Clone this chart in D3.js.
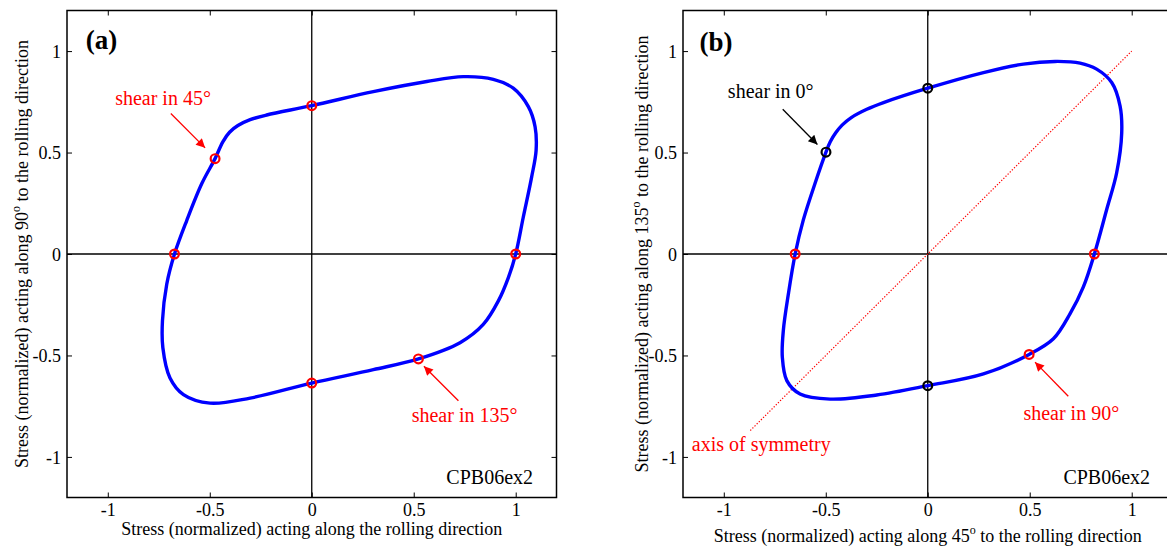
<!DOCTYPE html>
<html>
<head>
<meta charset="utf-8">
<script src="https://cdn.jsdelivr.net/npm/d3@7"></script>
<style>
  html, body { margin: 0; padding: 0; background: #fff; }
  svg { display: block; font-family: "Liberation Serif", "Times New Roman", serif; }
</style>
</head>
<body>
<svg id="chart" width="1167" height="550"></svg>
<script>
// ---------------- DATA ----------------
const xTicks = [-1, -0.5, 0, 0.5, 1];
const yTicks = [-1, -0.5, 0, 0.5, 1];
const axisDomain = [-1.2, 1.2];

// Panel (a): yield locus, rolling direction vs 90 deg
const curveAx = [1.000, 1.037, 1.078, 1.100, 1.095, 1.062, 0.988, 0.890, 0.743, 0.564, 0.302, 0.000, -0.221, -0.302, -0.362, -0.403, -0.436, -0.474, -0.539, -0.613, -0.673, -0.711, -0.732, -0.730, -0.695, -0.629, -0.499, -0.302, 0.000, 0.302, 0.523, 0.727, 0.841, 0.915, 0.964];
const curveAy = [0.000, 0.181, 0.379, 0.511, 0.627, 0.726, 0.817, 0.861, 0.874, 0.850, 0.800, 0.731, 0.685, 0.662, 0.633, 0.600, 0.553, 0.470, 0.347, 0.165, 0.000, -0.149, -0.330, -0.462, -0.611, -0.693, -0.735, -0.710, -0.636, -0.570, -0.517, -0.437, -0.347, -0.231, -0.116];
const markAx = [1.000, 0.000, -0.673, 0.000, -0.474, 0.523];
const markAy = [0.000, 0.731, 0.000, -0.636, 0.470, -0.517];
const markAcol = ["red", "red", "red", "red", "red", "red"];

// Panel (b): 45 deg vs 135 deg
const curveBx = [0.817, 0.877, 0.926, 0.951, 0.943, 0.902, 0.828, 0.747, 0.624, 0.469, 0.273, 0.000, -0.217, -0.299, -0.375, -0.420, -0.452, -0.478, -0.499, -0.552, -0.610, -0.650, -0.683, -0.708, -0.713, -0.691, -0.626, -0.479, -0.250, 0.000, 0.273, 0.497, 0.616, 0.698, 0.763];
const curveBy = [0.000, 0.218, 0.399, 0.597, 0.729, 0.845, 0.911, 0.941, 0.949, 0.936, 0.894, 0.817, 0.746, 0.713, 0.672, 0.635, 0.596, 0.553, 0.502, 0.350, 0.168, 0.000, -0.195, -0.376, -0.508, -0.624, -0.690, -0.715, -0.695, -0.649, -0.591, -0.495, -0.418, -0.294, -0.162];
const markBx = [0.817, 0.000, -0.650, 0.000, -0.499, 0.497];
const markBy = [0.000, 0.817, 0.000, -0.649, 0.502, -0.495];
const markBcol = ["red", "black", "red", "black", "black", "red"];
const symAxisX = [-0.87, 1.0];
const symAxisY = [-0.87, 1.0];

// Annotations (data coordinates)
const annA = [
  { text: "shear in 45\u00B0",  tx: -0.964, ty: 0.733,  ax0: -0.691, ay0: 0.692,  ax1: -0.523, ay1: 0.523,  color: "red" },
  { text: "shear in 135\u00B0", tx: 0.490,  ty: -0.830, ax0: 0.719,  ay0: -0.723, ax1: 0.550,  ay1: -0.553, color: "red" }
];
const annB = [
  { text: "shear in 0\u00B0",  tx: -0.980, ty: 0.767,  ax0: -0.711, ay0: 0.713,  ax1: -0.541, ay1: 0.540,  color: "black" },
  { text: "shear in 90\u00B0", tx: 0.469,  ty: -0.817, ax0: 0.689,  ay0: -0.701, ax1: 0.526,  ay1: -0.533, color: "red" }
];

const svg = d3.select("#chart");

// arrow markers
const defs = svg.append("defs");
["red", "black"].forEach(c => {
  defs.append("marker")
    .attr("id", "arrow-" + c)
    .attr("viewBox", "0 0 10 10")
    .attr("refX", 10).attr("refY", 5)
    .attr("markerUnits", "userSpaceOnUse")
    .attr("markerWidth", 11).attr("markerHeight", 9)
    .attr("orient", "auto")
    .append("path").attr("d", "M0,0 L10,5 L0,10 z").attr("fill", c);
});

function drawPanel(cfg) {
  const x = d3.scaleLinear().domain(axisDomain).range([cfg.left, cfg.right]);
  const y = d3.scaleLinear().domain(axisDomain).range([cfg.bottom, cfg.top]);
  const g = svg.append("g");

  // zero lines
  g.append("line").attr("x1", x(axisDomain[0])).attr("x2", x(axisDomain[1]))
    .attr("y1", y(0)).attr("y2", y(0)).attr("stroke", "#000").attr("stroke-width", 1.3);
  g.append("line").attr("x1", x(0)).attr("x2", x(0))
    .attr("y1", y(axisDomain[0])).attr("y2", y(axisDomain[1])).attr("stroke", "#000").attr("stroke-width", 1.3);

  // axes (ticks inward)
  const tl = 5;
  const fmt = v => String(v);
  const bottomAx = g.append("g").attr("transform", `translate(0,${cfg.bottom})`)
    .call(d3.axisBottom(x).tickValues(xTicks).tickFormat(fmt).tickSizeInner(-tl).tickSizeOuter(0).tickPadding(6));
  const topAx = g.append("g").attr("transform", `translate(0,${cfg.top})`)
    .call(d3.axisTop(x).tickValues(xTicks).tickFormat("").tickSizeInner(-tl).tickSizeOuter(0));
  const leftAx = g.append("g").attr("transform", `translate(${cfg.left},0)`)
    .call(d3.axisLeft(y).tickValues(yTicks).tickFormat(fmt).tickSizeInner(-tl).tickSizeOuter(0).tickPadding(6));
  const rightAx = g.append("g").attr("transform", `translate(${cfg.right},0)`)
    .call(d3.axisRight(y).tickValues(yTicks).tickFormat("").tickSizeInner(-tl).tickSizeOuter(0));
  [bottomAx, topAx, leftAx, rightAx].forEach(a => {
    a.select(".domain").remove();
    a.selectAll("line").attr("stroke", "#000").attr("stroke-width", 1);
    a.selectAll("text").attr("fill", "#000").style("font-family", "Liberation Serif").style("font-size", "18px");
  });
  bottomAx.selectAll("text").attr("dy", "0.71em");
  leftAx.selectAll("text").attr("dy", "0.35em");

  // box
  g.append("rect").attr("x", cfg.left).attr("y", cfg.top)
    .attr("width", cfg.right - cfg.left).attr("height", cfg.bottom - cfg.top)
    .attr("fill", "none").attr("stroke", "#000").attr("stroke-width", 1.5);

  // symmetry axis
  if (cfg.sym) {
    g.append("line").attr("x1", x(cfg.sym.x[0])).attr("y1", y(cfg.sym.y[0]))
      .attr("x2", x(cfg.sym.x[1])).attr("y2", y(cfg.sym.y[1]))
      .attr("stroke", "red").attr("stroke-width", 1.2).attr("stroke-dasharray", "1.3,1.7");
    g.append("text").attr("x", x(-1.157)).attr("y", y(-0.970))
      .attr("fill", "red").style("font-size", "20px").text("axis of symmetry");
  }

  // curve
  const pts = cfg.cx.map((v, i) => [v, cfg.cy[i]]);
  const line = d3.line().x(d => x(d[0])).y(d => y(d[1])).curve(d3.curveCatmullRomClosed.alpha(0.5));
  g.append("path").datum(pts).attr("d", line)
    .attr("fill", "none").attr("stroke", "#0000ff").attr("stroke-width", 3.4);

  // markers
  cfg.mx.forEach((v, i) => {
    g.append("circle").attr("cx", x(v)).attr("cy", y(cfg.my[i])).attr("r", 4.4)
      .attr("fill", "none").attr("stroke", cfg.mcol[i]).attr("stroke-width", 2.2);
  });

  // annotations
  cfg.ann.forEach(a => {
    g.append("line").attr("x1", x(a.ax0)).attr("y1", y(a.ay0))
      .attr("x2", x(a.ax1)).attr("y2", y(a.ay1))
      .attr("stroke", a.color).attr("stroke-width", 1.3)
      .attr("marker-end", `url(#arrow-${a.color})`);
    g.append("text").attr("x", x(a.tx)).attr("y", y(a.ty))
      .attr("fill", a.color).style("font-size", "20px").text(a.text);
  });

  // panel label
  g.append("text").attr("x", x(cfg.labPos[0])).attr("y", y(cfg.labPos[1]))
    .style("font-size", "27px").style("font-weight", "bold").text(cfg.label);

  // CPB06ex2
  g.append("text").attr("x", x(cfg.modelPos[0])).attr("y", y(cfg.modelPos[1]))
    .attr("text-anchor", "end").style("font-size", "20px").text("CPB06ex2");

  // x title
  const xt = g.append("text").attr("x", (cfg.left + cfg.right) / 2).attr("y", cfg.xTitleY)
    .attr("text-anchor", "middle").style("font-size", "18px");
  cfg.xTitle.forEach(p => {
    const t = xt.append("tspan").text(p.t);
    if (p.sup) t.attr("dy", -8).style("font-size", "12px");
    else if (p.after) t.attr("dy", 8);
  });

  // y title
  const yt = g.append("text")
    .attr("transform", `translate(${cfg.yTitleX},${(cfg.top + cfg.bottom) / 2}) rotate(-90)`)
    .attr("text-anchor", "middle").style("font-size", "18px");
  cfg.yTitle.forEach(p => {
    const t = yt.append("tspan").text(p.t);
    if (p.sup) t.attr("dy", -8).style("font-size", "12px");
    else if (p.after) t.attr("dy", 8);
  });
}

drawPanel({
  left: 67, right: 556.5, top: 10.5, bottom: 497.5,
  cx: curveAx, cy: curveAy, mx: markAx, my: markAy, mcol: markAcol,
  ann: annA, label: "(a)", labPos: [-1.108, 1.01], modelPos: [1.085, -1.134],
  xTitleY: 534.5,
  xTitle: [{ t: "Stress (normalized) acting along the rolling direction" }],
  yTitleX: 28,
  yTitle: [{ t: "Stress (normalized) acting along 90" }, { t: "o", sup: true }, { t: " to the rolling direction", after: true }]
});

drawPanel({
  left: 683, right: 1172.5, top: 10.5, bottom: 497.5,
  cx: curveBx, cy: curveBy, mx: markBx, my: markBy, mcol: markBcol,
  sym: { x: symAxisX, y: symAxisY },
  ann: annB, label: "(b)", labPos: [-1.119, 1.0], modelPos: [1.090, -1.135],
  xTitleY: 541.5,
  xTitle: [{ t: "Stress (normalized) acting along 45" }, { t: "o", sup: true }, { t: " to the rolling direction", after: true }],
  yTitleX: 648,
  yTitle: [{ t: "Stress (normalized) acting along 135" }, { t: "o", sup: true }, { t: " to the rolling direction", after: true }]
});
</script>
</body>
</html>
